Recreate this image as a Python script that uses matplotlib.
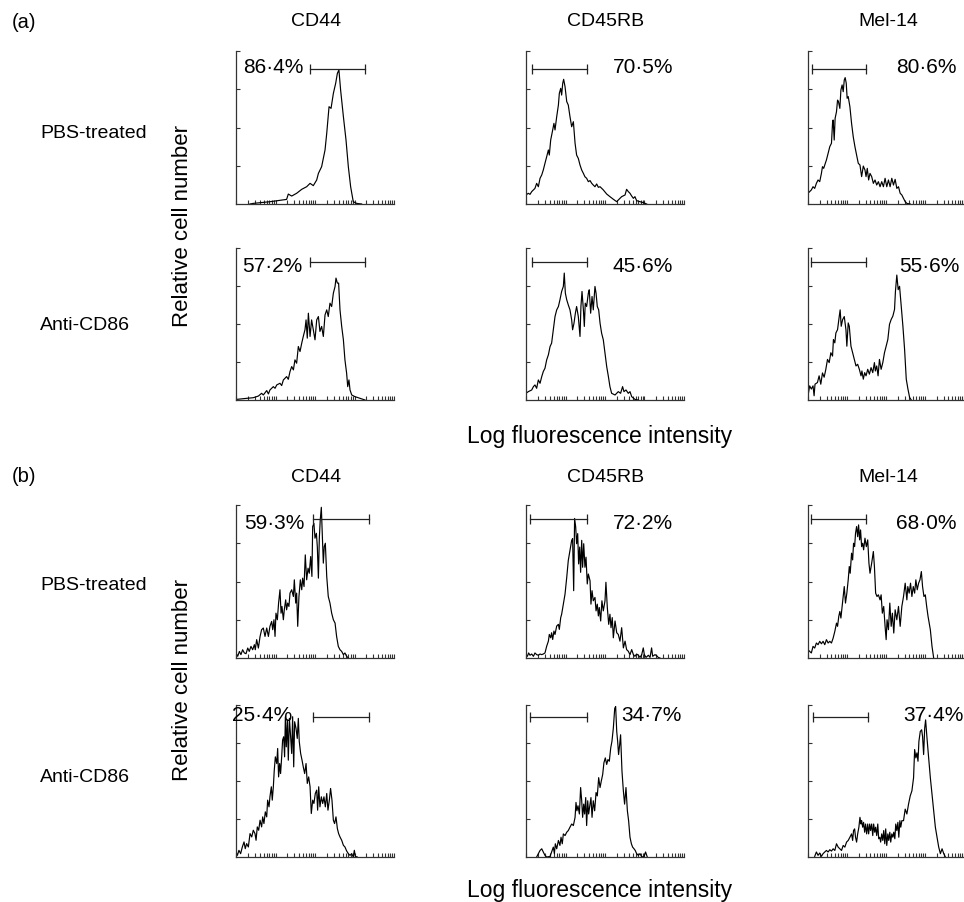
import matplotlib.pyplot as plt
from matplotlib.ticker import LogLocator, NullFormatter
import numpy as np

plt.rcParams['font.family'] = ['Liberation Sans', 'DejaVu Sans']

W, H = 964, 902
FS = 14

markers = ["CD44", "CD45RB", "Mel-14"]
treatments = ["PBS-treated", "Anti-CD86"]
panels = ["(a)", "(b)"]

# histograms: channel (256 per decade, 4 decades) and relative cell number (% of axis)
# (a) PBS-treated
a_cd44_pbs_ch = [90, 112, 220, 328, 339, 361, 393, 426, 458, 480, 501, 523, 534, 555, 577, 588, 603, 616,
                 631, 646, 657, 667, 678, 696, 713, 728, 743, 760, 782, 814]
a_cd44_pbs_h = [0, 0.4, 1.5, 3.0, 6.5, 5.2, 7.0, 9.6, 11.3, 13.5, 12.0, 15.7, 20, 24.4, 35.3, 46.2, 63.6, 62.5,
                72.3, 78.9, 85.4, 87.6, 74.5, 57.1, 41.8, 24.4, 11.3, 1.5, 0.4, 0]
a_cd45rb_pbs_ch = [0, 15, 26, 37, 48, 58, 69, 80, 91, 102, 112, 123, 134, 145, 151, 160, 173, 181, 188, 199,
                   210, 216, 225, 231, 238, 244, 253, 264, 274, 285, 296, 307, 318, 328, 339, 350, 361, 372,
                   382, 393, 404, 415, 426, 436, 447, 458, 469, 480, 501, 523, 544, 566, 588, 598, 620, 642,
                   652, 663, 674, 685, 696, 706, 717, 739, 760, 782]
a_cd45rb_pbs_h = [5.9, 7.0, 6.3, 8.1, 9.2, 10.2, 13.5, 11.3, 16.8, 19.0, 22.2, 26.6, 30.9, 35.3, 32.0, 41.8,
                  48.4, 52.7, 48.4, 57.1, 64.7, 72.3, 75.6, 71.2, 78.9, 81.5, 76.7, 66.9, 64.7, 57.1, 50.5,
                  53.8, 39.7, 32.0, 29.8, 25.5, 22.2, 20.0, 17.8, 16.8, 14.6, 15.3, 13.5, 12.4, 11.3, 13.1,
                  10.9, 11.3, 9.2, 6.5, 4.8, 3.1, 1.5, 2.6, 4.8, 5.9, 9.6, 8.1, 7.0, 5.2, 3.7, 4.8, 2.2, 1.5,
                  0.9, 0]
a_mel14_pbs_ch = [0, 11, 22, 33, 44, 55, 66, 77, 88, 95, 103, 110, 121, 132, 143, 154, 161, 165, 172, 178,
                  187, 194, 200, 209, 216, 224, 231, 238, 244, 251, 257, 264, 275, 286, 297, 308, 319, 330,
                  341, 352, 363, 374, 381, 389, 398, 407, 418, 429, 440, 451, 462, 473, 484, 495, 506, 517,
                  528, 539, 550, 561, 572, 583, 594, 605, 616, 627, 638, 649, 671]
a_mel14_pbs_h = [7.0, 8.1, 9.2, 11.3, 10.2, 13.5, 15.7, 14.6, 20.0, 24.4, 23.3, 25.5, 28.8, 33.1, 37.5, 39.7,
                 52.7, 54.9, 41.8, 56.0, 60.3, 67.9, 66.9, 62.5, 74.5, 77.8, 73.4, 81.0, 82.6, 78.9, 69.1,
                 70.2, 63.6, 52.7, 43.9, 37.5, 32.0, 26.6, 25.5, 17.9, 24.8, 22.2, 17.9, 23.3, 15.7, 20.0,
                 17.9, 13.5, 15.7, 12.4, 14.6, 11.3, 14.6, 11.3, 16.8, 11.3, 15.7, 11.3, 16.8, 12.4, 16.1,
                 10.2, 11.3, 7.0, 5.9, 3.7, 1.5, 0.4, 0]
# (a) Anti-CD86
a_cd44_anti_ch = [4, 69, 112, 145, 166, 177, 199, 210, 220, 242, 253, 264, 285, 296, 307, 328, 339, 350, 361,
                  372, 382, 393, 404, 415, 426, 436, 447, 454, 462, 469, 480, 490, 501, 512, 523, 534, 544,
                  555, 566, 577, 588, 598, 609, 620, 631, 642, 648, 657, 665, 674, 685, 696, 706, 717, 724,
                  732, 739, 750, 771, 804, 836]
a_cd44_anti_h = [0.4, 1.1, 1.5, 2.6, 4.4, 3.3, 6.2, 4.0, 6.6, 8.8, 7.7, 9.9, 11.0, 9.5, 13.2, 15.4, 13.6, 18.7,
                 22.0, 19.8, 26.4, 24.2, 35.2, 31.9, 37.4, 41.8, 46.2, 52.7, 40.7, 57.1, 41.8, 52.7, 46.2,
                 39.6, 52.7, 54.9, 45.1, 48.4, 41.8, 56.0, 59.3, 54.9, 63.7, 61.5, 70.3, 74.7, 80.2, 76.9,
                 76.9, 59.3, 48.4, 39.6, 26.4, 17.6, 8.8, 13.2, 6.6, 3.3, 2.2, 1.1, 0]
a_cd45rb_anti_ch = [0, 15, 37, 48, 58, 69, 80, 91, 102, 112, 123, 134, 145, 156, 166, 177, 188, 199, 210, 220,
                    231, 242, 248, 255, 264, 274, 285, 296, 302, 311, 320, 328, 339, 350, 356, 363, 372, 378,
                    384, 393, 404, 410, 419, 428, 436, 447, 454, 462, 471, 480, 490, 501, 512, 523, 534, 544,
                    555, 577, 598, 613, 626, 635, 648, 663, 674, 685, 706, 728]
a_cd45rb_anti_h = [4.4, 5.5, 6.6, 8.8, 9.9, 7.7, 13.2, 11.0, 15.4, 18.7, 20.9, 26.4, 29.7, 35.2, 37.4, 46.2,
                   54.9, 59.3, 61.5, 65.9, 71.4, 74.7, 83.5, 70.3, 65.9, 62.6, 59.3, 52.7, 46.2, 50.5, 57.1,
                   61.5, 54.9, 41.8, 61.5, 71.4, 59.3, 48.4, 63.7, 61.5, 70.3, 72.5, 57.1, 68.1, 59.3, 74.7,
                   70.3, 61.5, 59.3, 50.5, 44.0, 39.6, 30.8, 22.0, 15.4, 8.8, 4.4, 3.3, 5.5, 4.4, 8.8, 5.5,
                   6.6, 4.4, 5.5, 2.2, 0.4, 0]
a_mel14_anti_ch = [0, 11, 22, 33, 40, 46, 62, 73, 84, 95, 106, 117, 128, 139, 150, 161, 167, 176, 183, 194,
                   205, 211, 218, 227, 238, 249, 255, 264, 271, 282, 293, 304, 315, 326, 337, 348, 354, 363,
                   372, 381, 392, 403, 414, 425, 436, 442, 451, 460, 469, 480, 491, 502, 513, 524, 535, 546,
                   557, 568, 574, 583, 592, 601, 612, 623, 634, 645, 656, 667, 678]
a_mel14_anti_h = [2.8, 9.3, 7.2, 9.3, 2.8, 10.4, 11.5, 15.9, 10.4, 17.8, 15.0, 20.2, 26.7, 24.6, 31.1, 28.9,
                  39.8, 37.6, 44.1, 46.3, 54.9, 59.3, 48.5, 52.8, 54.9, 46.3, 35.4, 50.7, 48.5, 35.4, 31.1,
                  26.7, 22.4, 23.5, 20.2, 15.9, 19.1, 13.7, 18.0, 15.9, 20.2, 17.0, 21.3, 18.0, 24.6, 19.1,
                  22.4, 15.9, 26.7, 20.2, 24.6, 31.1, 35.4, 39.8, 49.8, 53.0, 55.2, 59.6, 71.5, 82.2, 72.6,
                  74.8, 61.7, 48.5, 33.3, 13.7, 7.2, 1.7, 0]
# (b) PBS-treated
b_cd44_pbs_ch = [0, 11, 22, 32, 43, 54, 65, 76, 86, 97, 108, 119, 125, 134, 145, 156, 166, 177, 188, 199, 210,
                 220, 231, 238, 246, 253, 259, 268, 276, 285, 292, 298, 307, 313, 322, 328, 335, 343, 350, 361,
                 372, 378, 387, 393, 400, 408, 417, 426, 432, 441, 449, 458, 467, 475, 484, 492, 497, 505, 512,
                 521, 527, 534, 540, 546, 553, 559, 566, 572, 579, 588, 598, 609, 620, 631, 642, 652, 663, 674,
                 685, 696, 706, 717, 728]
b_cd44_pbs_h = [3.3, 1.1, 4.3, 2.2, 5.4, 3.3, 2.8, 6.5, 4.3, 7.6, 5.4, 8.7, 5.4, 12.0, 6.5, 14.1, 18.5, 19.6,
                14.1, 19.6, 14.1, 20.7, 23.9, 18.5, 25.0, 14.1, 29.3, 25.0, 35.9, 44.6, 29.3, 33.7, 25.0, 31.5,
                38.0, 31.5, 35.9, 33.7, 42.4, 44.6, 40.2, 51.1, 35.9, 42.4, 20.7, 40.2, 51.1, 44.6, 52.2, 46.7,
                67.4, 51.1, 58.7, 55.4, 66.3, 53.3, 85.9, 88.0, 78.3, 81.5, 72.8, 52.2, 78.3, 90.2, 98.5, 81.5,
                62.0, 72.8, 75.0, 53.3, 40.2, 35.9, 29.3, 25.0, 22.8, 14.1, 7.6, 5.4, 4.3, 2.2, 3.3, 1.1, 0]
b_cd45rb_pbs_ch = [0, 9, 17, 26, 37, 48, 58, 69, 80, 91, 102, 112, 123, 134, 145, 151, 160, 166, 173, 181, 188,
                   199, 210, 216, 225, 231, 242, 253, 264, 274, 285, 296, 302, 309, 315, 322, 328, 335, 341,
                   348, 354, 361, 367, 374, 382, 389, 397, 404, 415, 421, 428, 436, 447, 454, 462, 469, 475,
                   484, 492, 501, 512, 518, 527, 536, 544, 551, 559, 566, 577, 588, 598, 609, 620, 631, 642,
                   652, 663, 674, 685, 696, 706, 717, 728, 739, 750, 760, 767, 778, 793, 804, 814, 821, 836,
                   847, 857, 868]
b_cd45rb_pbs_h = [2.2, 1.1, 3.3, 1.8, 2.6, 1.1, 3.3, 2.2, 1.8, 2.6, 2.2, 2.6, 3.3, 7.7, 11.0, 15.4, 13.2, 16.5,
                  12.1, 17.6, 15.4, 20.9, 22.0, 18.7, 26.4, 28.6, 35.2, 41.8, 52.7, 63.7, 70.3, 76.9, 78.0,
                  44.0, 91.2, 85.7, 74.7, 81.3, 61.5, 72.5, 56.0, 76.9, 59.3, 74.7, 59.3, 65.9, 48.4, 54.9,
                  50.5, 35.2, 44.0, 37.4, 39.6, 30.8, 35.2, 27.5, 33.0, 24.2, 37.4, 30.8, 37.4, 49.5, 33.0,
                  22.0, 28.6, 19.8, 26.4, 13.2, 24.2, 16.5, 15.4, 11.0, 19.8, 6.6, 11.0, 5.5, 4.4, 2.2, 5.5,
                  2.2, 1.1, 2.6, 1.8, 0.4, 2.2, 6.6, 2.2, 0.4, 1.8, 0.4, 6.6, 1.1, 2.2, 1.5, 0.4, 0]
b_mel14_pbs_ch = [0, 11, 22, 33, 44, 55, 66, 77, 88, 99, 110, 121, 132, 143, 154, 165, 176, 187, 194, 202, 209,
                  216, 224, 231, 238, 246, 255, 264, 271, 277, 286, 293, 299, 306, 312, 319, 326, 332, 339,
                  345, 352, 359, 365, 374, 383, 392, 400, 407, 418, 429, 436, 444, 453, 462, 473, 480, 488,
                  497, 506, 513, 519, 528, 537, 546, 554, 563, 572, 583, 594, 605, 616, 627, 638, 649, 655,
                  664, 673, 682, 691, 700, 708, 717, 726, 735, 744, 752, 761, 770, 779, 788, 803, 814, 825]
b_mel14_pbs_h = [5.4, 4.3, 3.3, 7.6, 6.5, 9.8, 8.7, 10.9, 9.3, 10.9, 8.7, 12.0, 9.8, 10.9, 9.8, 13.0, 17.4,
                 22.8, 20.7, 27.2, 30.4, 26.1, 33.7, 40.2, 46.7, 35.9, 42.4, 51.1, 59.8, 55.4, 68.5, 64.1,
                 75.0, 72.8, 81.5, 85.9, 79.3, 87.0, 77.2, 83.7, 72.8, 75.0, 70.7, 78.3, 72.8, 77.2, 62.0,
                 55.4, 62.0, 69.6, 59.8, 42.4, 40.2, 41.3, 38.0, 41.3, 29.3, 33.7, 20.7, 12.0, 25.0, 18.5,
                 35.9, 20.7, 29.3, 16.3, 31.5, 25.0, 33.7, 20.7, 33.7, 40.2, 48.9, 38.0, 46.7, 42.4, 48.9,
                 40.2, 46.7, 42.4, 51.1, 44.6, 48.9, 51.1, 56.5, 46.7, 40.2, 41.3, 33.7, 27.2, 18.5, 7.6, 0]
# (b) Anti-CD86
b_cd44_anti_ch = [0, 9, 19, 30, 41, 52, 60, 69, 80, 91, 102, 112, 123, 130, 138, 147, 156, 166, 173, 181, 190,
                  199, 205, 214, 220, 229, 235, 242, 248, 255, 264, 270, 276, 283, 289, 296, 302, 309, 315,
                  320, 326, 333, 339, 346, 354, 361, 367, 374, 380, 389, 397, 404, 410, 419, 428, 436, 445,
                  454, 462, 471, 480, 488, 497, 505, 514, 523, 529, 536, 544, 553, 562, 570, 579, 588, 596,
                  605, 613, 622, 631, 639, 648, 657, 665, 674, 685, 696, 706, 717, 728, 739, 750, 760, 767,
                  773, 786]
b_cd44_anti_h = [3.3, 1.1, 4.4, 2.2, 6.6, 9.9, 5.5, 8.8, 6.6, 15.4, 13.2, 17.6, 15.4, 11.0, 19.8, 17.6, 24.2,
                 19.8, 26.4, 22.0, 29.7, 26.4, 37.4, 33.0, 39.6, 46.2, 37.4, 46.2, 57.1, 65.9, 61.5, 71.4,
                 52.7, 61.5, 54.9, 65.9, 76.9, 79.1, 65.9, 92.3, 72.5, 90.1, 63.7, 91.2, 79.1, 68.1, 92.3,
                 59.3, 89.0, 84.6, 78.0, 91.2, 76.0, 68.1, 63.7, 59.3, 54.9, 61.5, 48.4, 52.7, 46.2, 28.6,
                 37.4, 35.2, 41.8, 44.0, 30.8, 46.2, 33.0, 39.6, 35.2, 39.6, 33.0, 41.8, 30.8, 37.4, 45.1,
                 37.4, 24.2, 22.0, 26.4, 18.7, 15.4, 13.2, 11.0, 7.7, 6.6, 4.0, 2.2, 1.1, 2.2, 0, 4.4, 0.4, 0]
b_cd45rb_anti_ch = [69, 80, 91, 102, 112, 123, 134, 156, 166, 177, 184, 190, 199, 210, 220, 227, 235, 242, 253,
                    264, 274, 285, 296, 307, 318, 324, 330, 337, 346, 354, 361, 367, 374, 380, 387, 393, 400,
                    406, 415, 421, 428, 436, 445, 454, 462, 471, 480, 488, 497, 505, 514, 523, 531, 540, 549,
                    557, 566, 575, 581, 588, 594, 600, 607, 613, 622, 631, 639, 648, 657, 665, 674, 683, 691,
                    700, 708, 717, 728, 739, 750, 765, 775, 786]
b_cd45rb_anti_h = [0, 2.2, 4.3, 5.4, 3.3, 1.1, 0, 0.4, 3.3, 6.5, 2.2, 8.7, 5.4, 10.9, 7.6, 13.0, 8.7, 15.2, 14.1,
                   16.3, 17.4, 19.6, 21.7, 20.7, 26.1, 35.9, 30.4, 33.7, 28.3, 45.7, 37.0, 26.1, 34.8, 28.3,
                   39.1, 20.7, 37.0, 28.3, 34.8, 39.1, 26.1, 37.0, 30.4, 42.4, 40.2, 52.2, 45.7, 50.0, 54.3,
                   62.0, 65.2, 60.9, 64.1, 63.0, 71.7, 76.1, 84.8, 97.8, 99.0, 82.6, 76.1, 67.4, 73.9, 80.4,
                   56.5, 43.5, 34.8, 45.7, 30.4, 23.9, 13.0, 8.7, 6.5, 5.4, 4.3, 2.2, 1.1, 2.2, 0, 0.4, 3.3, 0]
b_mel14_anti_ch = [44, 55, 66, 77, 88, 99, 110, 121, 132, 143, 154, 165, 176, 187, 198, 209, 220, 231, 242, 253,
                   264, 275, 286, 293, 299, 306, 312, 319, 326, 334, 341, 348, 352, 359, 365, 372, 378, 385,
                   392, 398, 405, 411, 418, 425, 431, 438, 444, 451, 458, 464, 471, 477, 484, 491, 497, 504,
                   510, 517, 524, 530, 537, 543, 550, 557, 563, 570, 576, 583, 590, 596, 603, 609, 616, 627,
                   638, 649, 660, 671, 682, 693, 700, 708, 715, 722, 728, 737, 746, 752, 759, 766, 772, 781,
                   792, 803, 814, 825, 836, 847, 858, 869, 880, 891, 902]
b_mel14_anti_h = [0.4, 3.3, 1.1, 2.6, 0.4, 2.2, 3.3, 4.3, 3.3, 4.8, 3.9, 5.4, 4.3, 8.7, 6.5, 5.4, 4.3, 7.6,
                  6.5, 9.8, 10.9, 13.0, 15.2, 10.9, 17.4, 18.5, 13.0, 9.8, 15.2, 19.6, 26.1, 21.7, 23.9, 19.6,
                  22.8, 16.3, 21.7, 15.2, 21.7, 15.2, 21.7, 17.4, 21.7, 14.1, 21.7, 16.3, 19.6, 14.1, 21.7,
                  12.0, 13.0, 9.8, 15.2, 10.9, 17.4, 8.7, 18.5, 7.6, 15.2, 10.9, 16.3, 9.8, 15.2, 13.0, 16.3,
                  12.0, 21.7, 17.4, 22.8, 13.0, 23.9, 19.6, 23.9, 23.9, 31.5, 28.3, 34.8, 40.2, 43.5, 52.2,
                  70.7, 65.2, 68.5, 63.0, 76.1, 82.6, 83.7, 79.3, 67.4, 84.8, 90.2, 78.3, 65.2, 52.2, 41.3,
                  30.4, 19.6, 13.0, 6.5, 2.2, 5.4, 2.2, 0]

hist_ch = [[[a_cd44_pbs_ch, a_cd45rb_pbs_ch, a_mel14_pbs_ch],
            [a_cd44_anti_ch, a_cd45rb_anti_ch, a_mel14_anti_ch]],
           [[b_cd44_pbs_ch, b_cd45rb_pbs_ch, b_mel14_pbs_ch],
            [b_cd44_anti_ch, b_cd45rb_anti_ch, b_mel14_anti_ch]]]
hist_h = [[[a_cd44_pbs_h, a_cd45rb_pbs_h, a_mel14_pbs_h],
           [a_cd44_anti_h, a_cd45rb_anti_h, a_mel14_anti_h]],
          [[b_cd44_pbs_h, b_cd45rb_pbs_h, b_mel14_pbs_h],
           [b_cd44_anti_h, b_cd45rb_anti_h, b_mel14_anti_h]]]

# gated percentages and gate bounds (channels)
pct = [[["86·4%", "70·5%", "80·6%"], ["57·2%", "45·6%", "55·6%"]],
       [["59·3%", "72·2%", "68·0%"], ["25·4%", "34·7%", "37·4%"]]]
gate_lo = [[[480, 39, 26], [480, 39, 19]], [[499, 26, 19], [499, 26, 32]]]
gate_hi = [[[836, 395, 382], [836, 395, 382]], [[862, 395, 382], [862, 395, 395]]]

# layout (pixels)
col_left = [236, 526, 808]
col_width = [158, 158, 156]
row_box = [[(51, 204), (248, 400)], [(505, 658), (705, 857)]]
gate_level = [[88, 91], [91, 92]]
txt_x = [[[0.044, 0.55, 0.563], [0.038, 0.55, 0.582]],
         [[0.051, 0.55, 0.563], [-0.025, 0.60, 0.608]]]
txt_y = [[0.89, 0.88], [0.88, 0.93]]

fig = plt.figure(figsize=(W / 100, H / 100), dpi=100)


def ftext(x, y, s, size=FS, **kw):
    fig.text(x / W, 1 - y / H, s, fontsize=size, **kw)


for p in range(2):
    for r in range(2):
        top, bot = row_box[p][r]
        for c in range(3):
            ax = fig.add_axes([col_left[c] / W, 1 - bot / H, col_width[c] / W, (bot - top) / H])
            ch = np.array(hist_ch[p][r][c])
            ax.plot(10 ** (ch / 256), hist_h[p][r][c], color='black', lw=0.85)
            g0 = 10 ** (gate_lo[p][r][c] / 256)
            g1 = 10 ** (gate_hi[p][r][c] / 256)
            gy = gate_level[p][r]
            ax.plot([g0, g1], [gy, gy], color='#222222', lw=0.9)
            ax.vlines([g0, g1], gy - 3.3, gy + 3.3, color='#222222', lw=0.9)
            ax.text(txt_x[p][r][c], txt_y[p][r], pct[p][r][c], transform=ax.transAxes,
                    ha='left', va='center', fontsize=15, clip_on=False)
            ax.set_xscale('log')
            ax.set_xlim(1, 1e4)
            ax.set_ylim(0, 100)
            ax.xaxis.set_major_locator(LogLocator(base=10, numticks=20))
            ax.xaxis.set_minor_locator(LogLocator(base=10, subs=np.arange(2, 10), numticks=20))
            ax.set_yticks([25, 50, 75, 100])
            ax.set_yticklabels([])
            ax.xaxis.set_major_formatter(NullFormatter())
            ax.xaxis.set_minor_formatter(NullFormatter())
            ax.tick_params(which='both', direction='in', length=3, width=0.8, color='#333333')
            for s in ['top', 'right']:
                ax.spines[s].set_visible(False)
            for s in ['left', 'bottom']:
                ax.spines[s].set_color('#333333')
                ax.spines[s].set_linewidth(0.9)
            ax.patch.set_alpha(0)

    y0 = [22, 477][p]
    ftext(12, y0, panels[p], size=14.5, ha='left', va='center')
    for c in range(3):
        ftext(col_left[c] + 80, y0, markers[c], ha='center', va='center')
    ftext(40, [133, 586][p], treatments[0], ha='left', va='center')
    ftext(40, [326, 778][p], treatments[1], ha='left', va='center')
    ftext(182, [226, 680][p], "Relative cell number", size=16, ha='center', va='center', rotation=90)
    ftext(600, [436, 890][p], "Log fluorescence intensity", size=16.5, ha='center', va='center')

fig.savefig("out.png", dpi=100)
